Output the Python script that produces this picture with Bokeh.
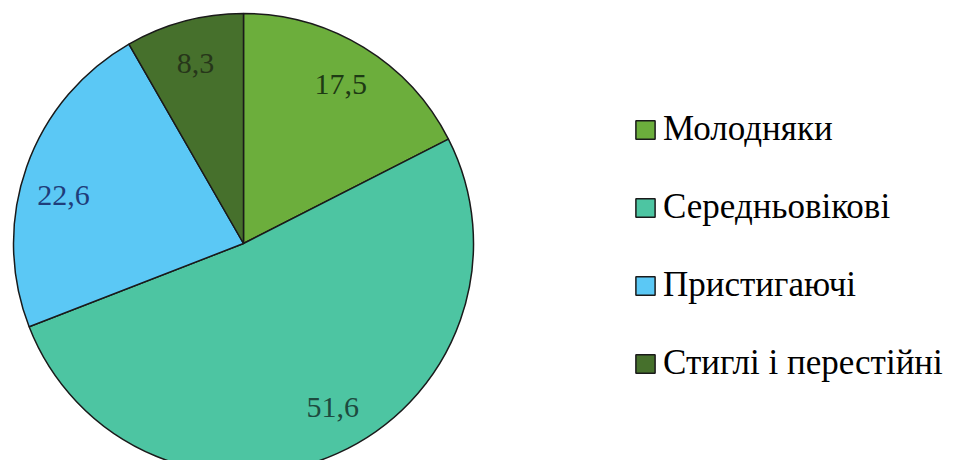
import math
from bokeh.plotting import figure
from bokeh.models import ColumnDataSource, Legend, LegendItem, Range1d
from bokeh.core.properties import value
from bokeh.embed import file_html
from bokeh.resources import INLINE

categories = ["Молодняки", "Середньовікові", "Пристигаючі", "Стиглі і перестійні"]
shares = [17.5, 51.6, 22.6, 8.3]
labels = ["17,5", "51,6", "22,6", "8,3"]
colors = ["#6cae3c", "#4dc5a2", "#5bc8f5", "#46702c"]
label_colors = ["#1e3a14", "#1d4a3e", "#1f3d7a", "#26361a"]

# layout (screen px)
W, H = 945, 460
cx, cy, r = 243, 217, 230
label_nudge_deg = [0.0, 4.5, 4.5, 0.0]
label_rfrac = 0.81
FONT = "Liberation Serif"

total = sum(shares)
starts, ends, lx, ly = [], [], [], []
cum = 0.0
for s, nd in zip(shares, label_nudge_deg):
    a0 = math.pi / 2 - 2 * math.pi * cum / total
    cum += s
    a1 = math.pi / 2 - 2 * math.pi * cum / total
    starts.append(a0)
    ends.append(a1)
    mid = (a0 + a1) / 2 + math.radians(nd)
    lx.append(cx + label_rfrac * r * math.cos(mid))
    ly.append(cy + label_rfrac * r * math.sin(mid))

src = ColumnDataSource(dict(cat=categories, start=starts, end=ends, color=colors,
                            x=[cx] * 4, y=[cy] * 4, lx=lx, ly=ly, lab=labels, lc=label_colors))

p = figure(width=W, height=H, output_backend="svg", toolbar_location=None,
           x_range=Range1d(0, W), y_range=Range1d(0, H), min_border=0)
p.axis.visible = False
p.grid.visible = False
p.outline_line_color = None
p.background_fill_color = "white"

w = p.wedge(x="x", y="y", radius=r, radius_units="screen", start_angle="start", end_angle="end",
            direction="clock", fill_color="color", line_color="#1a1a1a", line_width=1.5, source=src)
p.text(x="lx", y="ly", text="lab", text_color="lc", text_align="center", text_baseline="middle",
       text_font=value(FONT), text_font_size="30px", source=src)

items = [LegendItem(label=c, renderers=[w], index=i) for i, c in enumerate(categories)]
legend = Legend(items=items, location=(633, 77), glyph_width=24, glyph_height=23,
                label_text_font=FONT, label_text_font_size="35px", label_text_color="#000000",
                label_standoff=6, label_height=40, spacing=38, padding=0, margin=0,
                border_line_color=None, background_fill_alpha=0)
p.add_layout(legend)

open("out.html", "w").write(file_html(p, INLINE))
